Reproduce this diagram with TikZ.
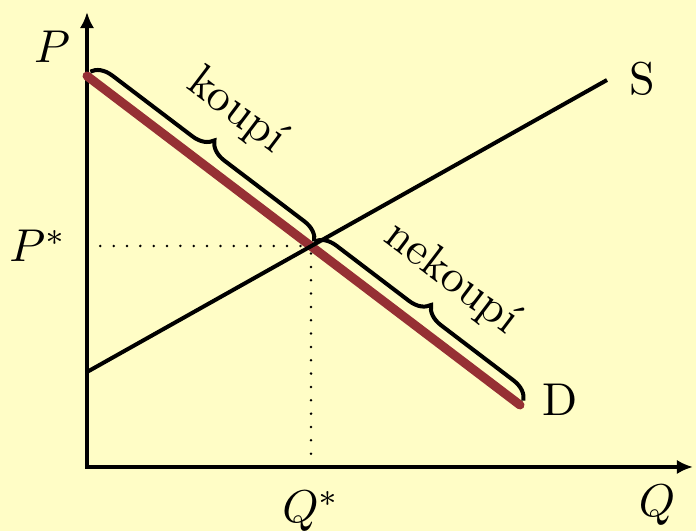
\documentclass[tikz,border=0pt]{standalone}
\usepackage{tikz}
\usetikzlibrary{arrows.meta, positioning, decorations.pathreplacing, calc}
\definecolor{bgyellow}{RGB}{255,253,198}
\definecolor{dred}{RGB}{150,48,52}
\begin{document}
\begin{tikzpicture}[
  x=0.2174pt, y=0.2174pt, >={Latex[length=3.5pt,width=3.1pt]},
  font=\normalsize,
  ax/.style={<->, line width=0.87pt},
  sup/.style={line width=0.87pt},
  dem/.style={line width=1.96pt, draw=dred, line cap=round},
  brc/.style={decorate, decoration={brace, amplitude=4.4pt, raise=1.2pt}, line width=0.87pt},
  guide/.style={line width=0.6pt, line cap=round, dash pattern=on 0pt off 2.9pt},
  lbl/.style={inner sep=0pt, anchor=base}]
\fill[bgyellow] (0,0) rectangle (696,531);
\useasboundingbox (0,0) rectangle (696,531);
\coordinate (O) at (87,64);
\coordinate (ptop) at (87,519);
\coordinate (qend) at (693,64);
\coordinate (s0) at (87,159);
\coordinate (s1) at (607,451);
\coordinate (d0) at (87,455);
\coordinate (d1) at (520,126);
\coordinate (eq) at (311,285);
% guides
\draw[guide] (O|-eq) -- (eq);
\draw[guide] (O-|eq) -- (eq);
% axes
\draw[ax] (ptop) -- (O) -- (qend);
% curves
\draw[dem] (d0) -- (d1);
\draw[sup] (s0) -- (s1);
% braces
\draw[brc] (d0) -- (eq);
\draw[brc] (eq) -- (d1);
\path (d0) -- (eq) node[inner sep=0pt, midway, sloped, above=8.8pt] (buy) {koupí};
\path (eq) -- (d1) node[inner sep=0pt, midway, sloped, above=8.2pt] (nobuy) {nekoupí};
% labels
\node[lbl] (plab) at (52,468) {$P$};
\node[lbl] (pstar) at (38,269) {$P^*$};
\node[lbl] (qstar) at (311,8) {$Q^*$};
\node[lbl] (qlab) at (657,14) {$Q$};
\node[lbl] (slab) at (642,436) {S};
\node[lbl] (dlab) at (560,115) {D};
\end{tikzpicture}
\end{document}
